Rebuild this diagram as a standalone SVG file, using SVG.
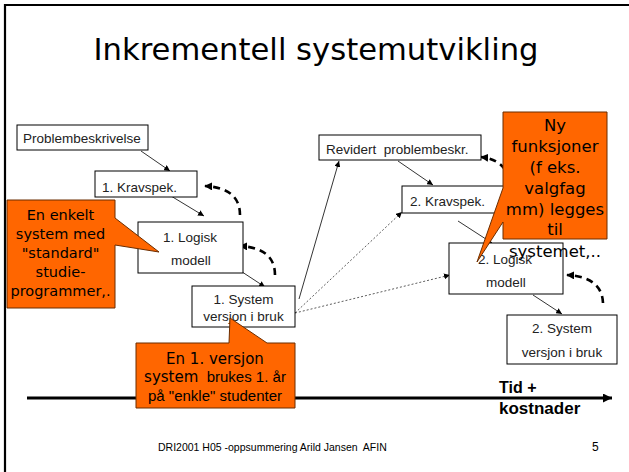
<svg xmlns="http://www.w3.org/2000/svg" width="629" height="472" viewBox="0 0 629 472">
<style>
.box{fill:#fff;stroke:#000;stroke-width:1}
.nt{font-family:"Liberation Sans",Arial,sans-serif;font-size:13.5px;fill:#222}
.ct{font-family:"Comic Sans MS","DejaVu Sans",sans-serif;fill:#000;text-anchor:middle}
.at{font-family:"Liberation Sans",Arial,sans-serif;fill:#000}
.call{fill:#FF6600;stroke:#6b2d00;stroke-width:1}
.thin{fill:none;stroke:#000;stroke-width:0.8}
.dot{fill:none;stroke:#333;stroke-width:0.8;stroke-dasharray:2 2}
.dash{fill:none;stroke:#000;stroke-width:2.6;stroke-dasharray:7 5}
</style>
<defs>
<marker id="a" viewBox="0 0 10 10" refX="10" refY="5" markerWidth="6" markerHeight="6" markerUnits="userSpaceOnUse" orient="auto"><path d="M0,0 L10,5 L0,10 z" fill="#000"/></marker>
<marker id="ad" viewBox="0 0 10 10" refX="9" refY="5" markerWidth="8" markerHeight="8" markerUnits="userSpaceOnUse" orient="auto"><path d="M0,0 L10,5 L0,10 z" fill="#000"/></marker>
<marker id="ax" viewBox="0 0 10 10" refX="10" refY="5" markerWidth="10" markerHeight="9" markerUnits="userSpaceOnUse" orient="auto"><path d="M0,0 L10,5 L0,10 z" fill="#000"/></marker>
</defs>
<rect width="629" height="472" fill="#fff"/>
<path d="M5,472 V5 H629" fill="none" stroke="#000" stroke-width="2.2"/>
<text x="316" y="60" font-family="'Comic Sans MS','DejaVu Sans',sans-serif" font-size="30" text-anchor="middle" textLength="445" lengthAdjust="spacingAndGlyphs">Inkrementell systemutvikling</text>

<g id="axis">
<line x1="27" y1="398" x2="612" y2="398" stroke="#000" stroke-width="3" marker-end="url(#ax)"/>
<text class="at" x="499" y="393" font-size="16" font-weight="bold">Tid +</text>
<text class="at" x="499" y="414" font-size="17" font-weight="bold">kostnader</text>
</g>

<g id="connectors">
<line class="thin" x1="141" y1="151" x2="170" y2="171" marker-end="url(#a)"/>
<line class="thin" x1="171" y1="196" x2="204" y2="216" marker-end="url(#a)"/>
<line class="thin" x1="230" y1="264" x2="265" y2="287" marker-end="url(#a)"/>
<path class="dash" d="M240,215 Q240,188 205,186" marker-end="url(#ad)"/>
<path class="dash" d="M275,275 Q275,248 240,246" marker-end="url(#ad)"/>
<line class="thin" x1="299" y1="299" x2="339" y2="161" marker-end="url(#a)"/>
<line class="dot" x1="295" y1="313" x2="402" y2="212" marker-end="url(#a)"/>
<line class="dot" x1="295" y1="313" x2="450" y2="275" marker-end="url(#a)"/>
<line class="thin" x1="398" y1="161" x2="433" y2="185" marker-end="url(#a)"/>
<line class="thin" x1="458" y1="221" x2="492" y2="243" marker-end="url(#a)"/>
<line class="thin" x1="533" y1="295" x2="562" y2="314" marker-end="url(#a)"/>
<path class="dash" d="M603,303 Q602,277 567,275" marker-end="url(#ad)"/>
<path class="dash" d="M512,192 Q510,160 481,157" marker-end="url(#ad)"/>
</g>

<g id="problembeskrivelse">
<rect class="box" x="17" y="125" width="131" height="25"/>
<text class="nt" x="23" y="143">Problembeskrivelse</text>
</g>
<g id="kravspek1">
<rect class="box" x="95" y="171" width="102" height="26"/>
<text class="nt" x="102" y="192">1. Kravspek.</text>
</g>
<g id="logisk1">
<rect class="box" x="138" y="222" width="105" height="51"/>
<text class="nt" x="163" y="242">1. Logisk</text>
<text class="nt" x="171" y="265">modell</text>
</g>
<g id="system1">
<rect class="box" x="192" y="286" width="103" height="41"/>
<text class="nt" x="243.5" y="304" text-anchor="middle" font-size="14">1. System</text>
<text class="nt" x="243.5" y="321" text-anchor="middle" font-size="14">versjon i bruk</text>
</g>
<g id="revidert">
<rect class="box" x="319" y="135" width="162" height="25"/>
<text class="nt" x="326" y="154" xml:space="preserve">Revidert  problembeskr.</text>
</g>
<g id="kravspek2">
<rect class="box" x="402" y="186" width="110" height="27"/>
<text class="nt" x="410" y="206">2. Kravspek.</text>
</g>
<g id="logisk2">
<rect class="box" x="449" y="243" width="114" height="51"/>
<text class="nt" x="478" y="264">2. Logisk</text>
<text class="nt" x="486" y="287">modell</text>
</g>
<g id="system2">
<rect class="box" x="507" y="315" width="110" height="49"/>
<text class="nt" x="562" y="333" text-anchor="middle" font-size="14">2. System</text>
<text class="nt" x="562" y="357" text-anchor="middle" font-size="14">versjon i bruk</text>
</g>

<g id="callout-left">
<path class="call" d="M7,200 H115 V218 L159,252 L115,245 V308 H7 Z"/>
<text class="ct" font-size="14.5" x="60.5" y="220">En enkelt</text>
<text class="ct" font-size="14.5" x="60.5" y="239">system med</text>
<text class="ct" font-size="14.5" x="60.5" y="258">"standard"</text>
<text class="ct" font-size="14.5" x="60.5" y="277">studie-</text>
<text class="ct" font-size="14.5" x="60.5" y="296">programmer,.</text>
</g>

<g id="callout-bottom">
<path class="call" d="M136,343 H229 L230,318 L267,343 H295 V408 H136 Z"/>
<text class="ct" font-size="15" x="215" y="364">En 1. versjon</text>
<text x="215" y="382" text-anchor="middle" font-size="15" xml:space="preserve"><tspan font-family="'Comic Sans MS','DejaVu Sans',sans-serif">system</tspan><tspan font-family="'Liberation Sans',Arial,sans-serif">  brukes 1. år</tspan></text>
<text class="at" font-size="15" x="215" y="401" text-anchor="middle">på "enkle" studenter</text>
</g>

<g id="callout-right">
<path class="call" d="M503,112 H607 V239 H503 V222 L477,262 L503,188 Z"/>
<text class="ct" font-size="16.5" x="555" y="131">Ny</text>
<text class="ct" font-size="16.5" x="555" y="152">funksjoner</text>
<text class="ct" font-size="16.5" x="555" y="173">(f eks.</text>
<text class="ct" font-size="16.5" x="555" y="194">valgfag</text>
<text class="ct" font-size="16.5" x="555" y="215">mm) legges</text>
<text class="ct" font-size="16.5" x="555" y="235">til</text>
<text class="ct" font-size="16.5" x="555" y="257">systemet,..</text>
</g>

<g id="footer">
<text class="at" x="158" y="451" font-size="10.5" fill="#222" xml:space="preserve">DRI2001 H05 -oppsummering Arild Jansen  AFIN</text>
<text class="at" x="592" y="451" font-size="12" fill="#222">5</text>
</g>
</svg>
